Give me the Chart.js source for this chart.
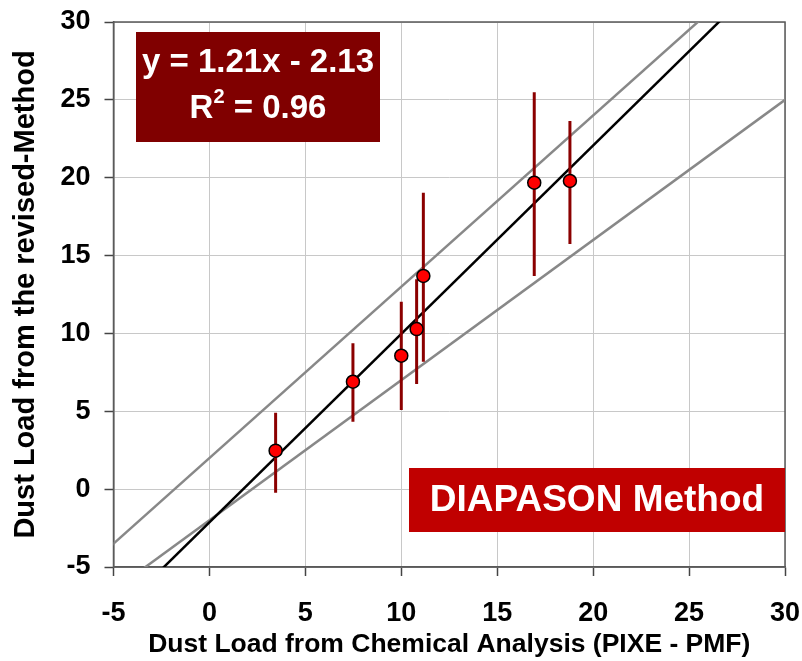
<!DOCTYPE html>
<html>
<head>
<meta charset="utf-8">
<script src="https://cdn.jsdelivr.net/npm/chart.js@4/dist/chart.umd.min.js"></script>
<style>
html,body{margin:0;padding:0;background:#fff;}
#wrap{width:802px;height:661px;}
</style>
</head>
<body>
<div id="wrap"><canvas id="c" width="802" height="661"></canvas></div>
<script>
// ---- data ----
const chemX   = [3.45, 7.48, 10.0, 10.80, 11.15, 16.93, 18.79];
const revY    = [2.47, 6.90, 8.57, 10.28, 13.69, 19.68, 19.79];
const errLow  = [-0.23, 4.33, 5.08, 6.75, 8.18, 13.69, 15.74];
const errHigh = [4.91, 9.37, 12.04, 13.48, 19.04, 25.49, 23.64];
// regression line and the two bounding lines: [slope, intercept]
const fitLine   = [1.21, -2.13];
const upperLine = [1.1, 2.0];
const lowerLine = [0.9, -2.0];
const axisMin = -5, axisMax = 30, tickStep = 5;
const xTitle = 'Dust Load from Chemical Analysis (PIXE - PMF)';
const yTitle = 'Dust Load from the revised-Method';
const eqLines = ['y = 1.21x - 2.13', 'R', '2', ' = 0.96'];
const methodLabel = 'DIAPASON Method';

const FONT = "'Liberation Sans', Arial, sans-serif";

function linePts(c) {
  return [{x: axisMin - 5, y: c[0] * (axisMin - 5) + c[1]},
          {x: axisMax + 5, y: c[0] * (axisMax + 5) + c[1]}];
}
const errData = [];
chemX.forEach((x, i) => {
  errData.push({x: x, y: errLow[i]});
  errData.push({x: x, y: errHigh[i]});
  errData.push({x: x, y: null});
});
const pts = chemX.map((x, i) => ({x: x, y: revY[i]}));

const boxPlugin = {
  id: 'boxes',
  beforeDatasetsDraw(chart) {
    const {ctx, chartArea: a} = chart;
    ctx.save();
    ctx.strokeStyle = '#5a5a5a';
    ctx.lineWidth = 1.5;
    ctx.strokeRect(a.left, a.top, a.right - a.left, a.bottom - a.top);
    ctx.restore();
  },
  afterDatasetsDraw(chart) {
    const {ctx, chartArea: a} = chart;
    ctx.save();
    // equation box
    const ex = a.left + 22.5, ey = a.top + 10, ew = 244, eh = 110;
    ctx.fillStyle = '#800000';
    ctx.fillRect(ex, ey, ew, eh);
    ctx.fillStyle = '#ffffff';
    ctx.textBaseline = 'middle';
    ctx.textAlign = 'center';
    ctx.font = 'bold 33px ' + FONT;
    ctx.fillText(eqLines[0], ex + ew / 2, ey + 31);
    // second line with superscript
    const wR = ctx.measureText(eqLines[1]).width;
    const wRest = ctx.measureText(eqLines[3]).width;
    ctx.font = 'bold 20px ' + FONT;
    const wSup = ctx.measureText(eqLines[2]).width;
    const total = wR + wSup + wRest;
    let sx = ex + ew / 2 - total / 2;
    const ly = ey + 77;
    ctx.textAlign = 'left';
    ctx.font = 'bold 33px ' + FONT;
    ctx.fillText(eqLines[1], sx, ly);
    ctx.font = 'bold 20px ' + FONT;
    ctx.fillText(eqLines[2], sx + wR, ly - 12);
    ctx.font = 'bold 33px ' + FONT;
    ctx.fillText(eqLines[3], sx + wR + wSup, ly);
    // method box
    const mx = a.left + 295.5, my = a.top + 446, mw = a.right - (a.left + 295.5), mh = 64;
    ctx.fillStyle = '#c00000';
    ctx.fillRect(mx, my, mw, mh);
    ctx.fillStyle = '#ffffff';
    ctx.textAlign = 'center';
    ctx.font = 'bold 37px ' + FONT;
    ctx.fillText(methodLabel, mx + mw / 2, my + mh / 2 + 1);
    ctx.restore();
  }
};

const tickFont = {family: FONT, size: 27, weight: 'bold'};

new Chart(document.getElementById('c'), {
  type: 'scatter',
  data: {
    datasets: [
      {type: 'scatter', data: pts, backgroundColor: '#ff0000', borderColor: '#000000',
       borderWidth: 1.5, pointRadius: 6.5, pointHoverRadius: 6.5, order: 0},
      {type: 'line', data: errData, borderColor: '#8b0000', borderWidth: 3, pointRadius: 0,
       spanGaps: false, fill: false, order: 1, borderCapStyle: 'butt'},
      {type: 'line', data: linePts(fitLine), borderColor: '#000000', borderWidth: 2.5,
       pointRadius: 0, fill: false, order: 2},
      {type: 'line', data: linePts(upperLine), borderColor: '#888888', borderWidth: 2.5,
       pointRadius: 0, fill: false, order: 3},
      {type: 'line', data: linePts(lowerLine), borderColor: '#888888', borderWidth: 2.5,
       pointRadius: 0, fill: false, order: 3}
    ]
  },
  options: {
    responsive: false,
    animation: false,
    devicePixelRatio: 1,
    layout: {autoPadding: false, padding: {left: 0, right: 17, top: 22, bottom: 0}},
    plugins: {legend: {display: false}, tooltip: {enabled: false}},
    scales: {
      x: {
        type: 'linear', min: axisMin, max: axisMax,
        ticks: {stepSize: tickStep, color: '#000', font: tickFont, padding: 21, maxRotation: 0},
        grid: {color: '#c8c8c8', lineWidth: 1, tickLength: 9, tickColor: '#444', tickWidth: 1.5},
        border: {color: '#5a5a5a', width: 1.5},
        title: {display: true, text: xTitle, color: '#000', font: {family: FONT, size: 26.5, weight: 'bold'}, padding: {top: 4, bottom: 0}},
        afterFit(s) { s.height = 94; s.paddingLeft = 0; s.paddingRight = 0; }
      },
      y: {
        type: 'linear', min: axisMin, max: axisMax,
        ticks: {stepSize: tickStep, color: '#000', font: tickFont, padding: 14},
        grid: {color: '#c8c8c8', lineWidth: 1, tickLength: 9, tickColor: '#444', tickWidth: 1.5},
        border: {color: '#5a5a5a', width: 1.5},
        title: {display: true, text: yTitle, color: '#000', font: {family: FONT, size: 29, weight: 'bold'}, padding: {top: 9, bottom: 0}},
        afterFit(s) { s.width = 113.5; s.paddingTop = 0; s.paddingBottom = 0; }
      }
    }
  },
  plugins: [boxPlugin]
});
</script>
</body>
</html>
